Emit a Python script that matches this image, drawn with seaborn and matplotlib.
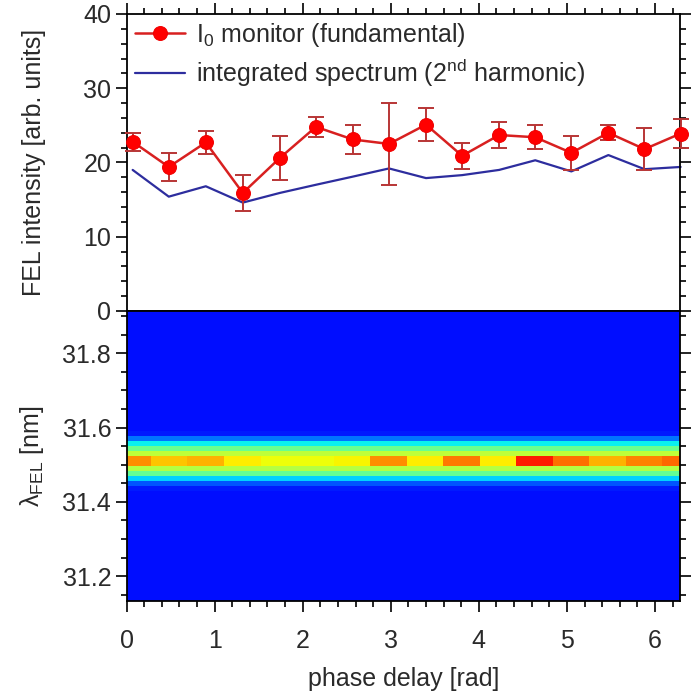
import numpy as np
import pandas as pd
import matplotlib
matplotlib.use("Agg")
import matplotlib.pyplot as plt
from matplotlib.ticker import MultipleLocator, FixedLocator
import seaborn as sns

# ---------------- data ----------------
phase = [0.07, 0.48, 0.90, 1.32, 1.74, 2.15, 2.57, 2.98,
         3.40, 3.81, 4.23, 4.64, 5.05, 5.47, 5.88, 6.29]
i0_monitor = [22.8, 19.4, 22.7, 15.9, 20.6, 24.8, 23.1, 22.5,
              25.1, 20.9, 23.7, 23.4, 21.3, 24.0, 21.8, 23.9]
i0_error = [1.24, 1.84, 1.57, 2.47, 2.96, 1.30, 1.90, 5.50,
            2.20, 1.73, 1.80, 1.64, 2.30, 1.00, 2.80, 1.90]
integrated_spectrum = [19.0, 15.4, 16.8, 14.6, 15.9, 17.0, 18.1, 19.2,
                       17.9, 18.3, 19.0, 20.3, 18.8, 21.0, 19.1, 19.4]

# spectrum map: per-column peak level (colour scale 0..1) and a common line profile
column_peak = [0.76, 0.70, 0.72, 0.66, 0.64, 0.64, 0.65, 0.76,
               0.66, 0.78, 0.66, 0.88, 0.79, 0.72, 0.77, 0.80]
profile_above = [0.15, 0.24, 0.36, 0.48, 0.58]   # rows above the line centre
profile_below = [0.57, 0.47, 0.33, 0.21, 0.15]   # rows below the line centre
background_level = 0.14
wl_top, wl_step, n_rows = 31.914, 0.01348, 58
centre_row = 29                                   # first of the two peak rows

legend_labels = [r"I$_{\mathrm{0}}$ monitor (fundamental)",
                 r"integrated spectrum (2$^{\mathrm{nd}}$ harmonic)"]

# ---------------- style ----------------
sns.set_theme(style="white")
plt.rcParams["font.family"] = ["Liberation Sans", "DejaVu Sans"]
plt.rcParams["mathtext.fontset"] = "custom"
plt.rcParams["mathtext.rm"] = "Liberation Sans"
plt.rcParams["mathtext.it"] = "Liberation Sans:italic"
TXT = "#2a2a2a"
FS = 18

fig = plt.figure(figsize=(6.95, 6.94), dpi=100)
L, R = 126.5 / 695, 680 / 695
ax1 = fig.add_axes([L, 1 - 311 / 694, R - L, (311 - 14) / 694])
ax2 = fig.add_axes([L, 1 - 601 / 694, R - L, (601 - 311) / 694])

# ---------------- top panel ----------------
df = pd.DataFrame({"phase": phase, "i0": i0_monitor, "err": i0_error,
                   "spec": integrated_spectrum})
sns.lineplot(data=df, x="phase", y="spec", ax=ax1, color="#2d2d9e",
             linewidth=1.6, label=legend_labels[1], clip_on=False)
ax1.errorbar(df["phase"], df["i0"], yerr=df["err"], fmt="none",
             ecolor="#b83535", elinewidth=1.4, capsize=6, capthick=1.4,
             clip_on=False, zorder=3)
sns.lineplot(data=df, x="phase", y="i0", ax=ax1, color="#d82020",
             linewidth=1.8, marker="o", markersize=10,
             markerfacecolor="#ff0000", markeredgecolor="#f00000",
             label=legend_labels[0], clip_on=False, zorder=4)
h, l = ax1.get_legend_handles_labels()
order = [l.index(legend_labels[0]), l.index(legend_labels[1])]
ax1.legend([h[i] for i in order], [l[i] for i in order], loc="upper left",
           bbox_to_anchor=(-0.008, 1.018), frameon=False, fontsize=FS,
           handlelength=2.0, handletextpad=0.45, labelspacing=0.3,
           borderaxespad=0.1, labelcolor=TXT)

ax1.set_xlim(0, 2 * np.pi)
ax1.set_ylim(0, 40)
ax1.xaxis.set_major_locator(MultipleLocator(1))
ax1.xaxis.set_minor_locator(MultipleLocator(0.2))
ax1.yaxis.set_major_locator(MultipleLocator(10))
ax1.yaxis.set_minor_locator(MultipleLocator(2))
ax1.set_xlabel("")
ax1.set_ylabel("FEL intensity [arb. units]", fontsize=FS, color=TXT)
ax1.tick_params(which="both", direction="out", top=True, bottom=False,
                left=True, right=True, labelbottom=False, labeltop=False,
                labelright=False, labelleft=True, colors="black",
                labelcolor=TXT, labelsize=FS, width=1.2, pad=3)
ax1.tick_params(which="major", length=8)
ax1.tick_params(which="minor", length=4)

# ---------------- bottom panel (spectrum map) ----------------
wavelength = np.round(wl_top - (np.arange(n_rows) + 0.5) * wl_step, 4)
Z = np.full((n_rows, len(phase)), background_level)
for k, v in enumerate(profile_above[::-1]):
    Z[centre_row - 1 - k, :] = v
for k, v in enumerate(profile_below):
    Z[centre_row + 2 + k, :] = v
Z[centre_row, :] = column_peak
Z[centre_row + 1, :] = column_peak
spec_map = pd.DataFrame(Z, index=wavelength, columns=phase)
sns.heatmap(spec_map, ax=ax2, cmap="jet", vmin=0, vmax=1, cbar=False,
            xticklabels=False, yticklabels=False, rasterized=True)

step = (phase[-1] - phase[0]) / (len(phase) - 1)
left_edge = phase[0] - step / 2


def cx(p):
    return (np.asarray(p) - left_edge) / step


def cy(w):
    return (wl_top - np.asarray(w)) / wl_step


ax2.set_xlim(cx(0), cx(2 * np.pi))
ax2.set_ylim(cy(31.133), cy(wl_top))
xt = np.arange(0, 7)
ax2.xaxis.set_major_locator(FixedLocator(cx(xt)))
ax2.set_xticklabels([str(v) for v in xt])
ax2.xaxis.set_minor_locator(FixedLocator(cx(np.arange(0, 6.3, 0.2))))
yt = np.array([31.2, 31.4, 31.6, 31.8])
ax2.yaxis.set_major_locator(FixedLocator(cy(yt)))
ax2.set_yticklabels([f"{v:.1f}" for v in yt])
ax2.yaxis.set_minor_locator(FixedLocator(cy(np.arange(31.15, 31.91, 0.05))))
for sp in ax2.spines.values():
    sp.set_visible(True)
ax2.tick_params(which="both", direction="out", top=False, bottom=True,
                left=True, right=True, labelright=False, labelleft=True,
                labelbottom=True, colors="black", labelcolor=TXT,
                labelsize=FS, width=1.2)
ax2.tick_params(axis="y", pad=3)
ax2.tick_params(axis="x", pad=12)
ax2.tick_params(which="major", length=8)
ax2.tick_params(which="minor", length=4)
for t in ax2.get_yticklabels():
    t.set_rotation(0)
ax2.set_xlabel("phase delay [rad]", fontsize=FS, color=TXT, labelpad=10)
ax2.set_ylabel(r"λ$_{\mathrm{FEL}}$ [nm]", fontsize=FS, color=TXT)

for ax in (ax1, ax2):
    for sp in ax.spines.values():
        sp.set_color("black")
        sp.set_linewidth(1.3)
    ax.yaxis.set_label_coords(-0.145, 0.5)

fig.savefig("out.png", dpi=100)
